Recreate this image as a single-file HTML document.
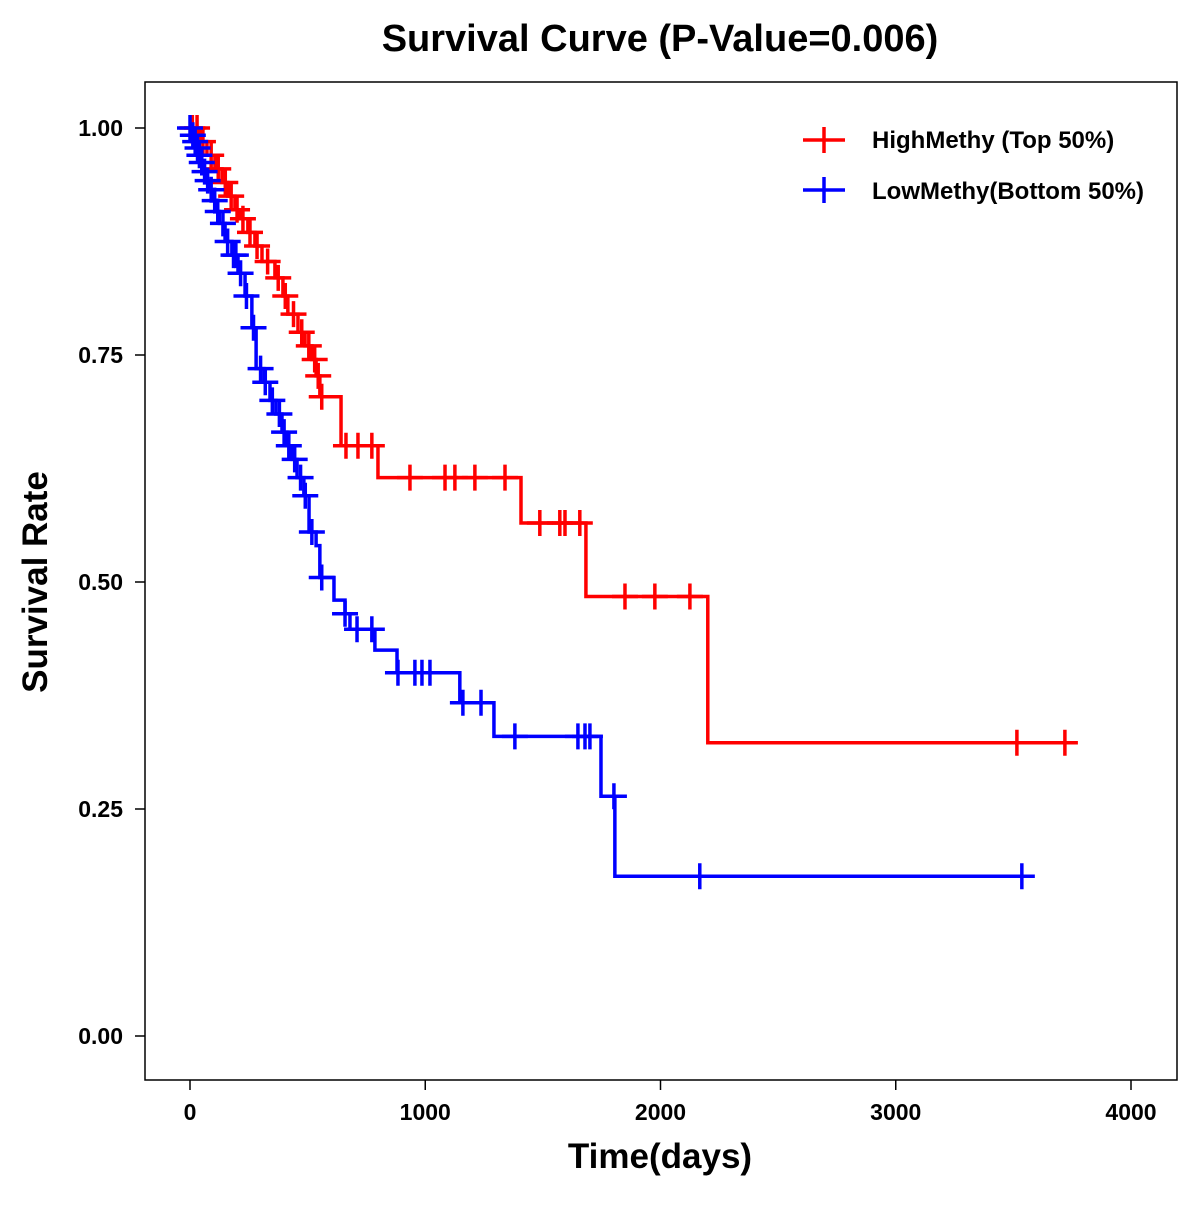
<!DOCTYPE html>
<html><head><meta charset="utf-8">
<style>
html,body{margin:0;padding:0;background:#fff;}
svg text{font-family:"Liberation Sans",Arial,sans-serif;font-weight:bold;}
</style></head>
<body>
<svg id="chart" width="1200" height="1200" viewBox="0 0 1200 1200" xmlns="http://www.w3.org/2000/svg">
<text x="660" y="51" font-size="38" text-anchor="middle">Survival Curve (P-Value=0.006)</text>
<rect x="145" y="82" width="1032" height="998" fill="none" stroke="#000" stroke-width="1.5"/>
<g id="axes"></g>
<g id="series"></g>
<text x="660" y="1168" font-size="35" text-anchor="middle">Time(days)</text>
<text x="0" y="0" font-size="35" text-anchor="middle" transform="translate(47,582) rotate(-90)">Survival Rate</text>
<g>
  <g>
    <line x1="803" y1="140" x2="845" y2="140" stroke="#f00" stroke-width="3.5"/>
    <line x1="824" y1="127" x2="824" y2="153" stroke="#f00" stroke-width="3.5"/>
    <text x="872" y="148" font-size="24">HighMethy (Top 50%)</text>
  </g>
  <g>
    <line x1="803" y1="190" x2="845" y2="190" stroke="#00f" stroke-width="3.5"/>
    <line x1="824" y1="177" x2="824" y2="203" stroke="#00f" stroke-width="3.5"/>
    <text x="872" y="199" font-size="24">LowMethy(Bottom 50%)</text>
  </g>
</g>
</svg>
<script>
const xTicks = [0, 1000, 2000, 3000, 4000];
const yTicks = [0, 0.25, 0.5, 0.75, 1.0];
const yTickLabels = ["0.00", "0.25", "0.50", "0.75", "1.00"];

const highTimes = [42,72,106,136,161,191,212,246,276,306,361,395,416,459,489,518,536,552,642,799,1407,1683,2201];
const highSurv = [0.985,0.97,0.955,0.94,0.925,0.91,0.90,0.885,0.87,0.853,0.835,0.815,0.795,0.775,0.76,0.745,0.727,0.704,0.65,0.615,0.565,0.484,0.323];
const highEnd = 3761;
const highCensor = [10,30,55,90,120,150,175,200,225,255,285,330,375,405,440,475,505,530,545,560,663,714,773,935,1084,1126,1211,1339,1487,1572,1594,1657,1849,1976,2125,3515,3719];

const lowTimes = [8,18,28,36,45,55,68,80,95,110,125,149,178,204,234,263,281,314,340,365,391,412,434,455,484,506,536,552,612,659,680,786,880,1147,1292,1747,1806];
const lowSurv = [0.992,0.985,0.978,0.97,0.962,0.952,0.942,0.932,0.92,0.908,0.895,0.875,0.86,0.84,0.815,0.78,0.735,0.72,0.70,0.685,0.665,0.65,0.635,0.615,0.595,0.555,0.54,0.505,0.48,0.465,0.448,0.425,0.40,0.367,0.33,0.264,0.176];
const lowEnd = 3586;
const lowCensor = [0,12,22,32,40,50,62,75,90,105,118,140,160,185,195,215,240,270,300,320,350,380,400,420,445,470,490,518,560,659,710,773,884,956,986,1020,1160,1237,1381,1649,1679,1700,1802,2167,3536];

const X0 = 190, XK = 0.23525;
const Y0 = 1036, Y1 = 128;
function xs(t){ return X0 + t*XK; }
function ys(v){ return Y0 + (Y1 - Y0)*v; }
const NS = "http://www.w3.org/2000/svg";
function mk(tag, attrs, parent){
  const e = document.createElementNS(NS, tag);
  for (const k in attrs) e.setAttribute(k, attrs[k]);
  parent.appendChild(e);
  return e;
}
const axes = document.getElementById('axes');
xTicks.forEach(t => {
  const l = mk('line', {x1: xs(t), x2: xs(t), y1: 1080, y2: 1090, stroke: '#000', 'stroke-width': 1.5}, axes);
  
  
  const tx = mk('text', {x: xs(t), y: 1120, 'font-size': 23, 'text-anchor': 'middle'}, axes);
  tx.textContent = t;
  
  
});
yTicks.forEach((v, i) => {
  const l = mk('line', {x1: 135, x2: 145, y1: ys(v), y2: ys(v), stroke: '#000', 'stroke-width': 1.5}, axes);
  
  
  const tx = mk('text', {x: 123, y: ys(v) + 8, 'font-size': 23, 'text-anchor': 'end'}, axes);
  tx.textContent = yTickLabels[i];
  
  
});
function survAt(times, surv, t){
  let s = 1;
  for (let i = 0; i < times.length; i++) if (times[i] <= t) s = surv[i];
  return s;
}
function drawSeries(times, surv, end, cens, color, name){
  const g = mk('g', {}, document.getElementById('series'));
  
  
  let d = 'M' + xs(0) + ',' + ys(1);
  for (let i = 0; i < times.length; i++){
    d += ' H' + xs(times[i]) + ' V' + ys(surv[i]);
  }
  d += ' H' + xs(end);
  const p = mk('path', {d: d, fill: 'none', stroke: color, 'stroke-width': 3.5}, g);
  
  
  cens.forEach(t => {
    const cx = xs(t), cy = ys(survAt(times, surv, t));
    const c = mk('path', {d: 'M' + (cx - 13) + ',' + cy + ' H' + (cx + 13) + ' M' + cx + ',' + (cy - 13) + ' V' + (cy + 13), stroke: color, 'stroke-width': 3.5, fill: 'none'}, g);
    
    
  });
}
drawSeries(highTimes, highSurv, highEnd, highCensor, '#ff0000', 'high-methy');
drawSeries(lowTimes, lowSurv, lowEnd, lowCensor, '#0000ff', 'low-methy');
</script>
</body></html>
